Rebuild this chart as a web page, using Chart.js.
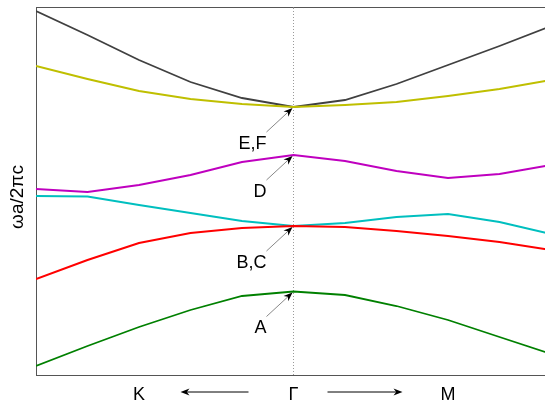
<!DOCTYPE html>
<html>
<head>
<meta charset="utf-8">
<script src="https://cdn.jsdelivr.net/npm/chart.js@4/dist/chart.umd.min.js"></script>
<style>
  html, body { margin: 0; padding: 0; overflow: hidden; background: #fff; }
  #wrap { width: 552px; height: 404px; }
</style>
</head>
<body>
<div id="wrap"><canvas id="bands" width="552" height="404"></canvas></div>
<script>
// k-path sample points: K side negative, Gamma at 0, M side positive
const kPath = [-5, -4, -3, -2, -1, 0, 1, 2, 3, 4, 5];

// normalized frequency of each band along the path
const bandA = [0.209, 0.229, 0.248, 0.265, 0.279, 0.2835, 0.280, 0.269, 0.255, 0.238, 0.221];
const bandB = [0.296, 0.315, 0.332, 0.342, 0.347, 0.349, 0.348, 0.344, 0.339, 0.333, 0.325];
const bandC = [0.379, 0.3785, 0.370, 0.362, 0.354, 0.349, 0.352, 0.358, 0.361, 0.353, 0.341];
const bandD = [0.386, 0.383, 0.390, 0.400, 0.413, 0.420, 0.414, 0.404, 0.397, 0.401, 0.410];
const bandE = [0.509, 0.496, 0.484, 0.476, 0.471, 0.468, 0.470, 0.473, 0.479, 0.486, 0.495];
const bandF = [0.564, 0.540, 0.515, 0.493, 0.477, 0.468, 0.475, 0.491, 0.510, 0.529, 0.549];

const tickValues = [-3, 0, 3];
const tickLabels = ['K', 'Γ', 'M'];
const yTitle = 'ωa/2πc';

// labels pointing at the Gamma point degeneracies
const gammaNotes = [
  { text: 'E,F', band: bandE },
  { text: 'D', band: bandD },
  { text: 'B,C', band: bandB },
  { text: 'A', band: bandA }
];

const yMin = 0.2, yMax = 0.568;
const FONT = '"Liberation Sans", Arial, Helvetica, sans-serif';

function pts(band) {
  return kPath.map((k, i) => ({ x: k, y: band[i] }));
}

function line(band, color, width) {
  return {
    data: pts(band),
    borderColor: color,
    borderWidth: width,
    pointRadius: 0,
    tension: 0,
    fill: false
  };
}

function arrow(ctx, x1, y1, x2, y2, len, half) {
  // shaft from (x1,y1) to head at (x2,y2)
  const a = Math.atan2(y2 - y1, x2 - x1);
  const c = Math.cos(a), s = Math.sin(a);
  ctx.beginPath();
  ctx.moveTo(x1, y1);
  ctx.lineTo(x2 - c * len * 0.6, y2 - s * len * 0.6);
  ctx.stroke();
  ctx.beginPath();
  ctx.moveTo(x2, y2);
  ctx.lineTo(x2 - c * len + s * half, y2 - s * len - c * half);
  ctx.lineTo(x2 - c * len * 0.7, y2 - s * len * 0.7);
  ctx.lineTo(x2 - c * len - s * half, y2 - s * len + c * half);
  ctx.closePath();
  ctx.fill();
}

const decorations = {
  id: 'decorations',
  afterDatasetsDraw(chart) {
    const ctx = chart.ctx;
    const xs = chart.scales.x, ys = chart.scales.y;
    const area = chart.chartArea;
    const gx = xs.getPixelForValue(0);
    ctx.save();

    // top frame line
    ctx.strokeStyle = '#555';
    ctx.lineWidth = 1;
    ctx.beginPath();
    ctx.moveTo(area.left, area.top + 0.5);
    ctx.lineTo(area.right, area.top + 0.5);
    ctx.stroke();

    // rotated y axis title
    ctx.save();
    ctx.translate(18, (area.top + area.bottom) / 2 + 6);
    ctx.rotate(-Math.PI / 2);
    ctx.font = '19px ' + FONT;
    ctx.fillStyle = '#000';
    ctx.textAlign = 'center';
    ctx.textBaseline = 'middle';
    ctx.fillText(yTitle, 0, 0);
    ctx.restore();

    // annotations at Gamma
    ctx.font = '18px ' + FONT;
    ctx.textAlign = 'right';
    ctx.textBaseline = 'middle';
    gammaNotes.forEach(n => {
      const tipX = gx - 1;
      const tipY = ys.getPixelForValue(n.band[kPath.indexOf(0)]) + 1;
      ctx.strokeStyle = '#555';
      ctx.fillStyle = '#000';
      ctx.lineWidth = 0.7;
      arrow(ctx, tipX - 26, tipY + 24, tipX, tipY, 9, 3.5);
      ctx.fillText(n.text, tipX - 26, tipY + 36);
    });

    // direction arrows under the axis
    const ay = 392;
    ctx.strokeStyle = '#000';
    ctx.fillStyle = '#000';
    ctx.lineWidth = 1;
    arrow(ctx, gx - 45, ay, gx - 113, ay, 9, 3.5);
    arrow(ctx, gx + 34, ay, gx + 109, ay, 9, 3.5);
    ctx.restore();
  }
};

new Chart(document.getElementById('bands'), {
  type: 'line',
  data: {
    datasets: [
      {
        data: [{ x: 0, y: yMin }, { x: 0, y: yMax }],
        borderColor: '#9a9a9a',
        borderWidth: 1,
        borderDash: [1, 2],
        pointRadius: 0,
        order: 10
      },
      line(bandA, '#008000', 1.8),
      line(bandB, '#ff0000', 2),
      line(bandC, '#00bfbf', 2),
      line(bandD, '#bf00bf', 2),
      line(bandE, '#bfbf00', 2),
      line(bandF, '#404040', 1.8)
    ]
  },
  options: {
    responsive: false,
    animation: false,
    layout: { padding: { top: 7, right: 1, left: 0, bottom: 0 } },
    plugins: {
      legend: { display: false },
      tooltip: { enabled: false }
    },
    scales: {
      x: {
        type: 'linear',
        min: -5,
        max: 5,
        grid: { display: false },
        border: { display: true, color: '#555', width: 1 },
        afterBuildTicks(scale) {
          scale.ticks = tickValues.map(v => ({ value: v }));
        },
        afterFit(scale) { scale.height = 29; },
        ticks: {
          autoSkip: false,
          maxRotation: 0,
          padding: 1,
          color: '#000',
          font: { family: FONT, size: 18 },
          callback: v => tickLabels[tickValues.indexOf(v)]
        }
      },
      y: {
        min: yMin,
        max: yMax,
        grid: { display: false },
        border: { display: true, color: '#555', width: 1 },
        ticks: { display: false },
        afterFit(scale) { scale.width = 36; }
      }
    }
  },
  plugins: [decorations]
});
</script>
</body>
</html>
